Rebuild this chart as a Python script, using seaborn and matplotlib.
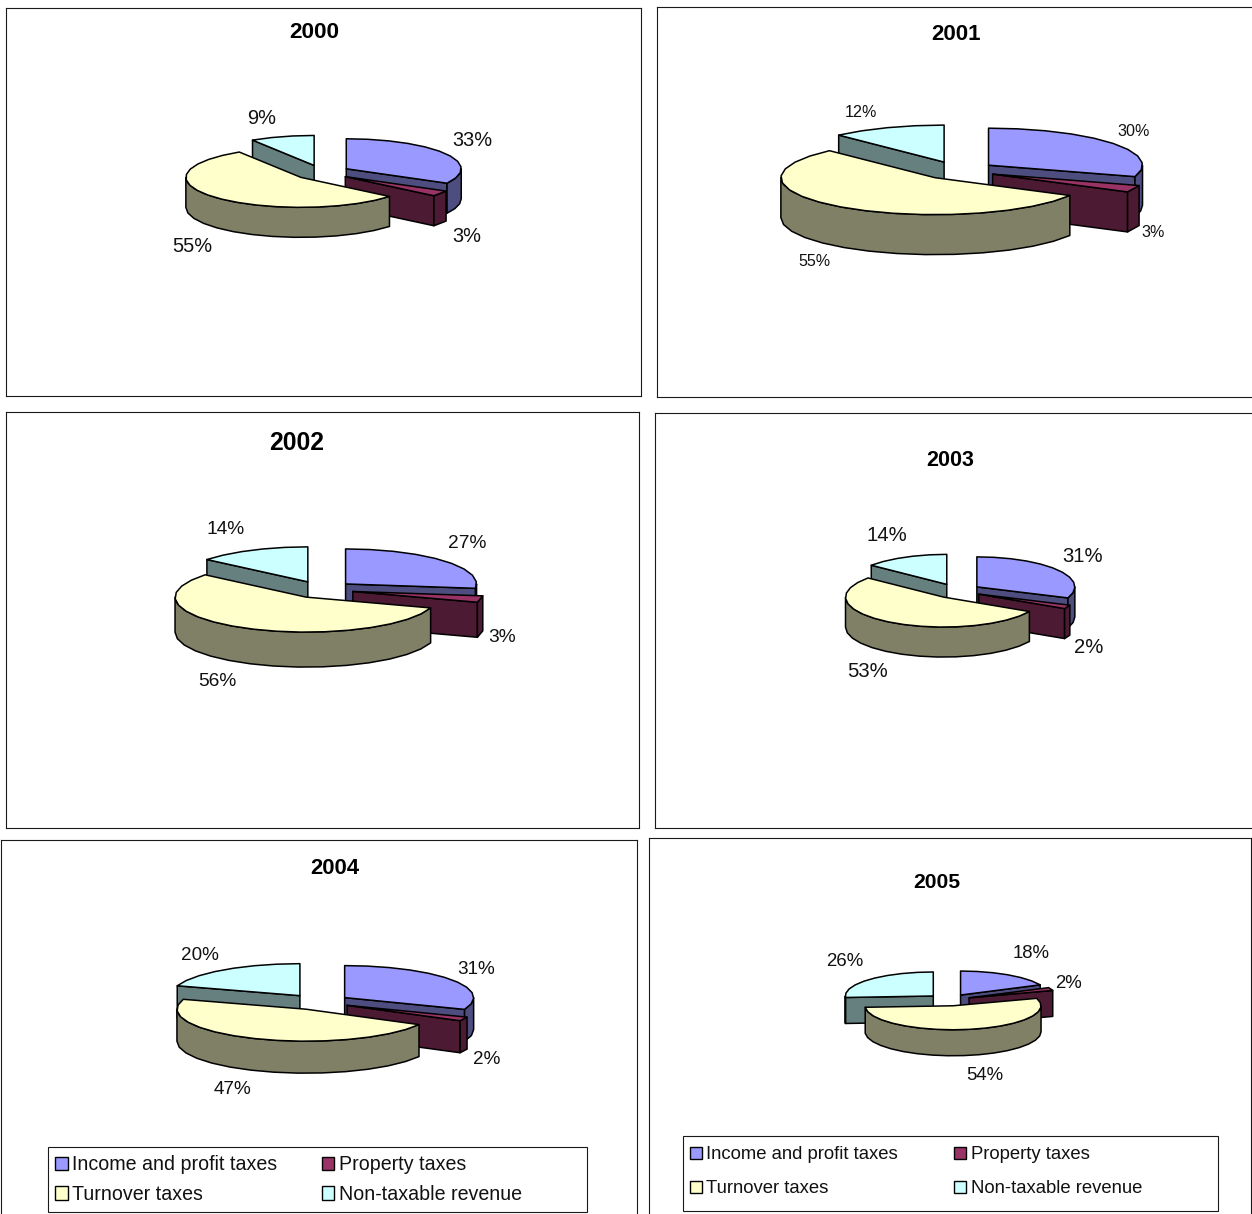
import numpy as np
import matplotlib
matplotlib.use("Agg")
import matplotlib.pyplot as plt
from matplotlib.patches import Patch, Rectangle
import seaborn as sns

YEARS = ["2000", "2001", "2002", "2003", "2004", "2005"]
CATEGORIES = ["Income and profit taxes", "Property taxes", "Turnover taxes", "Non-taxable revenue"]
INCOME = [33, 30, 27, 31, 31, 18]
PROPERTY = [3, 3, 3, 2, 2, 2]
TURNOVER = [55, 55, 56, 53, 47, 54]
NONTAX = [9, 12, 14, 14, 20, 26]

sns.set_theme(style="white")
plt.rcParams["font.family"] = ["Liberation Sans", "DejaVu Sans"]
plt.rcParams["text.color"] = "#111111"

W, H = 1252, 1214
TOPS = sns.color_palette(["#9999FF", "#993366", "#FFFFCC", "#CCFFFF"])
SIDES = sns.color_palette(["#4D4D80", "#4D1A33", "#808066", "#668080"])
EDGE = "#000000"
LW = 1.1

# x0, x1, y0, y1 of each panel frame
FRAMES = [(6, 641, 8, 396), (657, 1262, 7, 397), (6, 639, 412, 828),
          (655, 1262, 413, 828), (0.5, 637, 840, 1224), (649, 1251, 838, 1224)]
# cx, cy, rx, ry, depth of each pie
PIES = [(322, 172.5, 115, 30, 30), (958, 170.5, 154, 37, 40), (321.5, 589.6, 131, 35, 35),
        (957, 591, 98, 30, 30), (318.5, 1002, 129, 32, 32), (949, 1000, 88, 24, 26)]
EXPLODE = 0.245
TITLE_POS = [(314, 32.5, 16.2), (956, 35, 16), (297, 443, 17.8), (950, 460, 15.5), (335, 868, 15.9), (937, 882, 15.2)]
LABEL_SIZE = [14.4, 11.6, 13.8, 14.6, 13.6, 13.4]
LABEL_POS = [
    [(472, 140.5), (467, 236.5), (192, 246.5), (262, 118.5)],
    [(1134, 131.5), (1153, 232.5), (814, 261.5), (861, 112.5)],
    [(467, 544), (502, 637), (217, 681), (226, 530)],
    [(1083, 556), (1089, 647), (868, 671), (887, 535)],
    [(476, 970), (487, 1060), (232, 1090), (200, 955)],
    [(1031, 954), (1069, 983), (985, 1075), (845, 962)],
]
# order of painting: back slice first
PAINT = [3, 0, 1, 2]


def arc(c, rx, ry, a0, a1, step=11.0):
    n = max(int(np.ceil((a1 - a0) / step)), 1)
    t = np.radians(np.linspace(a0, a1, n + 1))
    return np.column_stack([c[0] + rx * np.sin(t), c[1] - ry * np.cos(t)])


def draw_pie(ax, values, cx, cy, rx, ry, depth):
    vals = np.asarray(values, float)
    edges = np.concatenate([[0], np.cumsum(vals)]) / vals.sum() * 360
    style = dict(edgecolor=EDGE, linewidth=LW, joinstyle="round")
    for i in PAINT:
        a0, a1 = edges[i], edges[i + 1]
        mid = np.radians((a0 + a1) / 2)
        c = np.array([cx + EXPLODE * rx * np.sin(mid), cy - EXPLODE * ry * np.cos(mid)])
        down = np.array([0, depth])
        rim = arc(c, rx, ry, a0, a1)
        inner = c + np.array([0.5 * rx * np.sin(mid), -0.5 * ry * np.cos(mid)])
        # flat cut faces that look towards the viewer
        for p in (rim[0], rim[-1]):
            dx = p[0] - c[0]
            if abs(dx) < 1e-6:
                continue
            line_y = c[1] + (p[1] - c[1]) * (inner[0] - c[0]) / dx
            if inner[1] < line_y:
                ax.fill(*np.array([c, p, p + down, c + down]).T, facecolor=SIDES[i], **style)
        # outer wall, front half only
        lo, hi = max(a0, 90), min(a1, 270)
        if hi > lo:
            wall = arc(c, rx, ry, lo, hi)
            ax.fill(*np.vstack([wall, (wall + down)[::-1]]).T, facecolor=SIDES[i], **style)
        ax.fill(*np.vstack([c, rim]).T, facecolor=TOPS[i], **style)


fig = plt.figure(figsize=(W / 100, H / 100), dpi=100, facecolor="white")
for k, year in enumerate(YEARS):
    x0, x1, y0, y1 = FRAMES[k]
    ax = fig.add_axes([x0 / W, 1 - y1 / H, (x1 - x0) / W, (y1 - y0) / H])
    ax.set_xlim(x0, x1)
    ax.set_ylim(y1, y0)
    ax.set_xticks([])
    ax.set_yticks([])
    ax.grid(False)
    for s in ax.spines.values():
        s.set_color("#1a1a1a")
        s.set_linewidth(0.8)
    values = [INCOME[k], PROPERTY[k], TURNOVER[k], NONTAX[k]]
    draw_pie(ax, values, *PIES[k])
    tx, ty, ts = TITLE_POS[k]
    ax.text(tx, ty, year, ha="center", va="center", fontsize=ts, fontweight="bold", color="black")
    for v, (lx, ly) in zip(values, LABEL_POS[k]):
        ax.text(lx, ly, f"{v}%", ha="center", va="center", fontsize=LABEL_SIZE[k], color="#111111")

    if k >= 4:
        box, anchor, fs, colsp, lsp = (
            ((48, 1147, 539, 65), (44, 1144.5), 14.1, 2.25, 0.54) if k == 4
            else ((683, 1136, 535, 75), (679.5, 1136), 13.3, 3.05, 0.93))
        ax.add_patch(Rectangle(box[:2], box[2], box[3], facecolor="white", edgecolor="#1a1a1a", linewidth=0.8, zorder=4))
        handles = [Patch(facecolor=TOPS[i], edgecolor=EDGE, linewidth=1.0, label=CATEGORIES[i]) for i in range(4)]
        # two columns, filled row by row as in the reference
        order = [0, 2, 1, 3]
        leg = ax.legend(handles=[handles[i] for i in order], ncols=2, frameon=False,
                        loc="upper left", bbox_to_anchor=anchor, bbox_transform=ax.transData,
                        borderaxespad=0, borderpad=0.55, fontsize=fs, handlelength=0.65, handleheight=0.65,
                        handletextpad=0.25, columnspacing=colsp, labelspacing=lsp, labelcolor="#111111")
        leg.set_zorder(5)

fig.savefig("out.png", dpi=100, facecolor="white")
